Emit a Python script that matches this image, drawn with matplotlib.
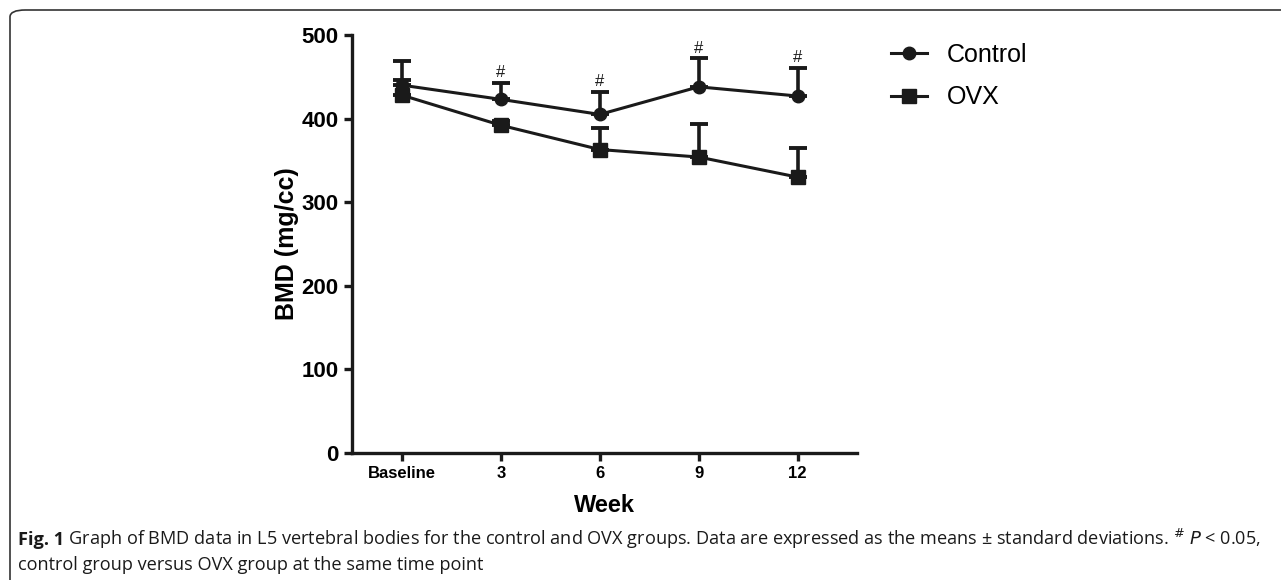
import numpy as np
import matplotlib
matplotlib.use("Agg")
import matplotlib.pyplot as plt
from matplotlib.patches import FancyBboxPatch
from matplotlib.lines import Line2D

# data
weeks = ["Baseline", "3", "6", "9", "12"]
control_mean = [440, 423, 405, 438, 427]
control_sd = [29, 20, 27, 34, 34]
ovx_mean = [428, 392, 363, 354, 330]
ovx_sd = [18, 5, 26, 39, 35]
significant = [False, True, True, True, True]

caption_bold = "Fig. 1"
caption_rest = (" Graph of BMD data in L5 vertebral bodies for the control and OVX groups. "
                "Data are expressed as the means \u00b1 standard deviations. ")
caption_line2 = "control group versus OVX group at the same time point"

plt.rcParams['font.family'] = ['Liberation Sans', 'DejaVu Sans']
ink = '#1a1a1a'

fig = plt.figure(figsize=(12.81, 5.80), dpi=100)
ax = fig.add_axes([352/1281, 127/580, 505/1281, 418/580])

x = np.arange(len(weeks))
zeros = np.zeros(len(weeks))

ax.errorbar(x, ovx_mean, yerr=[zeros, ovx_sd], color=ink, marker='s',
            markersize=10, linewidth=2.2, elinewidth=2.6, capsize=6.5, capthick=2.8,
            zorder=3)
ax.errorbar(x, control_mean, yerr=[zeros, control_sd], color=ink, marker='o',
            markersize=9, linewidth=2.2, elinewidth=2.6, capsize=6.5, capthick=2.8,
            zorder=4)

for i in range(len(weeks)):
    if significant[i]:
        ax.text(x[i], control_mean[i] + control_sd[i] + 3, "#", ha='center', va='bottom',
                fontsize=12, color=ink)

ax.set_xlim(-0.505, 4.6)
ax.set_ylim(0, 500)
ax.set_yticks([0, 100, 200, 300, 400, 500])
ax.set_xticks(x)
ax.set_xticklabels(weeks)

for s in ['top', 'right']:
    ax.spines[s].set_visible(False)
for s in ['left', 'bottom']:
    ax.spines[s].set_linewidth(2.4)
    ax.spines[s].set_color(ink)

ax.tick_params(axis='both', width=2.4, length=6, color=ink)
for lab in ax.get_yticklabels():
    lab.set_fontsize(16)
    lab.set_fontweight('bold')
for lab in ax.get_xticklabels():
    lab.set_fontsize(12)
    lab.set_fontweight('bold')

ax.set_ylabel("BMD (mg/cc)", fontsize=18, fontweight='bold', labelpad=2)
ax.set_xlabel("Week", fontsize=17, fontweight='bold', labelpad=9)

handles = [Line2D([], [], color=ink, marker='o', markersize=9, linewidth=2.2),
           Line2D([], [], color=ink, marker='s', markersize=10, linewidth=2.2)]
fig.legend(handles, ["Control", "OVX"], loc='upper left',
           bbox_to_anchor=(868/1281, 1 - 20/580), frameon=False,
           fontsize=18, handlelength=1.45, handletextpad=0.8, labelspacing=0.75)

# caption box
box = FancyBboxPatch((10/1281, -20/580), 1300/1281, 590/580,
                     boxstyle="round,pad=0,rounding_size=0.012",
                     transform=fig.transFigure, facecolor='none',
                     edgecolor='#333333', linewidth=1.2)
fig.patches.append(box)

cap_font = ['Open Sans', 'DejaVu Sans']
t1 = fig.text(18/1281, 1 - 545/580, caption_bold, fontsize=13.1, fontweight='bold',
              family=cap_font, color=ink)
fig.canvas.draw()
bb = t1.get_window_extent()
fig.text(bb.x1/1281, 1 - 545/580, caption_rest + r"$^{\#}$ $P$ < 0.05,", fontsize=13.1,
         family=cap_font, color=ink)
fig.text(18/1281, 1 - 570/580, caption_line2, fontsize=13.1,
         family=cap_font, color=ink)

fig.savefig("out.png", dpi=100)
